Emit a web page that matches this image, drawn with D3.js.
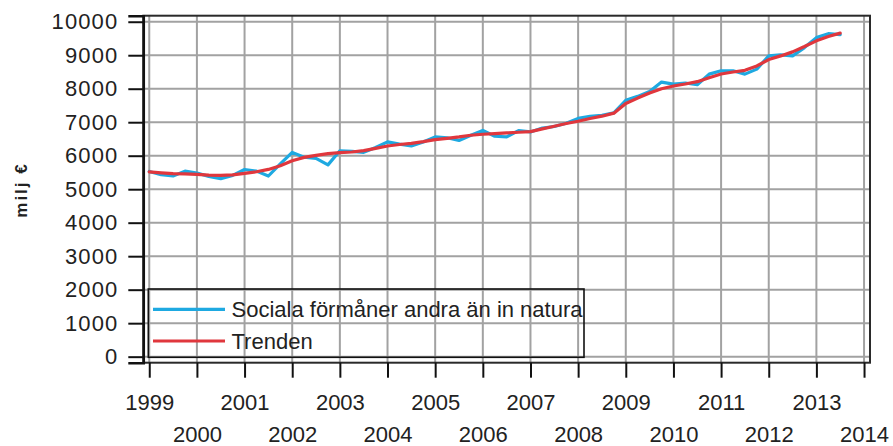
<!DOCTYPE html>
<html><head><meta charset="utf-8">
<script src="https://cdn.jsdelivr.net/npm/d3@7/dist/d3.min.js"></script>
<style>body{margin:0;background:#fff}svg{display:block}text{font-family:"Liberation Sans",Arial,sans-serif;fill:#222}</style>
</head><body><svg id="c" width="893" height="446"></svg>
<script>
const startYear = 1999;
const seriesNames = ["Sociala förmåner andra än in natura", "Trenden"];
const actual = [5530,5432,5394,5540,5482,5382,5315,5412,5588,5540,5394,5756,
  6100,5953,5923,5726,6147,6129,6100,6247,6412,6344,6294,6412,
  6560,6535,6456,6610,6756,6581,6564,6747,6709,6826,6872,6971,
  7113,7178,7208,7279,7653,7772,7920,8199,8139,8170,8119,8436,
  8535,8534,8436,8585,8980,9010,8980,9228,9525,9644,9615];
const trend = [5520,5490,5465,5455,5440,5420,5410,5430,5470,5520,5590,5700,
  5850,5950,6010,6060,6090,6110,6150,6220,6290,6335,6370,6420,
  6480,6520,6560,6610,6640,6660,6680,6700,6720,6800,6880,6960,
  7030,7110,7180,7270,7560,7720,7870,8000,8080,8140,8210,8330,
  8440,8500,8550,8680,8870,8980,9100,9260,9430,9560,9660];
const yTicks = [0,1000,2000,3000,4000,5000,6000,7000,8000,9000,10000];
const xTicks = [1999,2000,2001,2002,2003,2004,2005,2006,2007,2008,2009,2010,2011,2012,2013,2014];
const yTitle = "milj €";
const colors = ["#1ea9e1", "#e0373d"];

const svg = d3.select("#c");
const L = 143.3, R = 870, T = 15.7, B = 362.7;
const x = d3.scaleLinear().domain([1998.875, 2014.125]).range([L, R]);
const y = d3.scaleLinear().domain([-180, 10180]).range([B, T]);

// grid
svg.append("g").selectAll("line").data(xTicks).join("line")
  .attr("x1", d => x(d)).attr("x2", d => x(d)).attr("y1", T).attr("y2", B)
  .attr("stroke", "#a2a2a2").attr("stroke-width", 2);
svg.append("g").selectAll("line").data(yTicks).join("line")
  .attr("x1", L).attr("x2", R).attr("y1", d => y(d)).attr("y2", d => y(d))
  .attr("stroke", "#a2a2a2").attr("stroke-width", 2);

// lines
const q = i => startYear + i / 4;
const line = d3.line().x((d, i) => x(q(i))).y(d => y(d));
[actual, trend].forEach((s, k) => {
  svg.append("path").datum(s).attr("d", line).attr("fill", "none")
    .attr("stroke", colors[k]).attr("stroke-width", 3.2)
    .attr("stroke-linejoin", "round").attr("stroke-linecap", "round");
});

// frame
svg.append("rect").attr("x", L).attr("y", T).attr("width", R - L).attr("height", B - T)
  .attr("fill", "none").attr("stroke", "#2a2a2a").attr("stroke-width", 2);

// y axis
const ya = svg.append("g").attr("transform", `translate(${L},0)`)
  .call(d3.axisLeft(y).tickValues(yTicks).tickSize(15).tickPadding(10).tickFormat(d3.format("d")));
ya.select(".domain").attr("stroke", "#111").attr("stroke-width", 2.5);
ya.selectAll(".tick line").attr("stroke", "#111").attr("stroke-width", 2);
ya.selectAll("text").style("font-size", "22px").attr("letter-spacing", "1.1px").attr("fill", "#222");

// x axis
const xa = svg.append("g").attr("transform", `translate(0,${B})`)
  .call(d3.axisBottom(x).tickValues(xTicks).tickSize(15).tickFormat(d3.format("d")));
xa.select(".domain").remove();
xa.selectAll(".tick line").attr("stroke", "#111").attr("stroke-width", 2);
xa.selectAll("text").style("font-size", "22px").attr("fill", "#222")
  .attr("dy", null)
  .attr("y", (d, i) => i % 2 === 0 ? 47 : 79);

// y title
svg.append("text").attr("transform", "translate(26.5,190) rotate(-90)")
  .attr("text-anchor", "middle").style("font-size", "17px").style("font-weight", "bold")
  .attr("letter-spacing", "2px").attr("fill", "#111")
  .text(yTitle);

// legend
const lg = svg.append("g");
lg.append("rect").attr("x", 148.3).attr("y", 289).attr("width", 584 - 148.3).attr("height", 357.3 - 289)
  .attr("fill", "none").attr("stroke", "#111").attr("stroke-width", 1.6);
seriesNames.forEach((n, k) => {
  const yy = 309.3 + k * 31.7;
  lg.append("line").attr("x1", 153).attr("x2", 225).attr("y1", yy).attr("y2", yy)
    .attr("stroke", colors[k]).attr("stroke-width", 3.2);
  lg.append("text").attr("x", 231.5).attr("y", yy).attr("dy", "0.35em")
    .style("font-size", "22px").text(n);
});
</script></body></html>
